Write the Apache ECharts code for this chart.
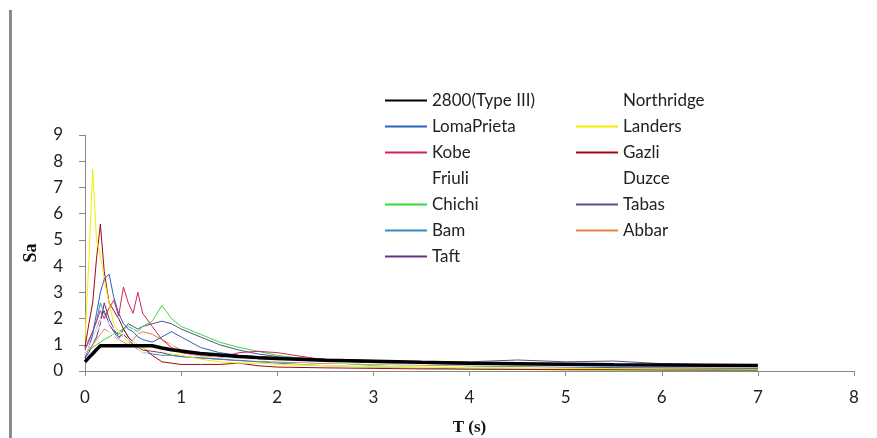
<!DOCTYPE html>
<html>
<head>
<meta charset="utf-8">
<script src="https://cdn.jsdelivr.net/npm/echarts@6/dist/echarts.min.js"></script>
<style>
  html, body { margin: 0; padding: 0; background: #fff; }
  #chart { width: 877px; height: 438px; }
</style>
</head>
<body>
<div id="chart"></div>
<script>
// periods (s)
var T = [0, 0.04, 0.08, 0.12, 0.16, 0.2, 0.25, 0.3, 0.35, 0.4, 0.45, 0.5, 0.55, 0.6, 0.7, 0.8, 0.9, 1.0,
         1.2, 1.4, 1.6, 1.8, 2.0, 2.5, 3.0, 3.5, 4.0, 4.5, 5.0, 5.5, 6.0, 6.5, 7.0];

// spectral accelerations
var code2800   = [0.35, 0.51, 0.66, 0.82, 0.96, 0.96, 0.96, 0.96, 0.96, 0.96, 0.96, 0.96, 0.96, 0.96, 0.96, 0.88, 0.81, 0.76,
                  0.67, 0.61, 0.55, 0.51, 0.48, 0.41, 0.37, 0.33, 0.30, 0.28, 0.26, 0.24, 0.23, 0.22, 0.21];
var northridge = [0.6, 0.9, 1.2, 1.5, 1.7, 1.9, 1.6, 1.4, 1.2, 1.3, 1.2, 1.1, 1.0, 0.9, 0.8, 0.75, 0.7, 0.65,
                  0.55, 0.5, 0.45, 0.4, 0.38, 0.32, 0.28, 0.25, 0.22, 0.2, 0.18, 0.17, 0.16, 0.15, 0.14];
var lomaPrieta = [0.5, 0.9, 1.4, 2.2, 3.0, 3.5, 3.7, 2.8, 2.2, 1.8, 1.6, 1.5, 1.3, 1.2, 1.1, 1.3, 1.5, 1.3,
                  0.9, 0.7, 0.6, 0.55, 0.5, 0.4, 0.3, 0.25, 0.2, 0.18, 0.15, 0.13, 0.12, 0.11, 0.1];
var landers    = [1.2, 4.2, 7.7, 5.0, 4.4, 3.5, 2.6, 1.8, 1.5, 1.3, 1.1, 1.0, 0.9, 0.85, 0.8, 0.75, 0.65, 0.6,
                  0.45, 0.35, 0.3, 0.3, 0.25, 0.2, 0.18, 0.15, 0.12, 0.12, 0.1, 0.09, 0.08, 0.08, 0.07];
var kobe       = [0.8, 1.2, 1.5, 1.9, 2.3, 2.0, 2.4, 2.7, 2.1, 3.2, 2.6, 2.2, 3.0, 2.2, 1.7, 1.2, 0.9, 0.7,
                  0.55, 0.5, 0.7, 0.75, 0.7, 0.42, 0.35, 0.3, 0.25, 0.2, 0.18, 0.16, 0.14, 0.13, 0.12];
var gazli      = [0.9, 1.8, 2.6, 4.3, 5.6, 3.8, 2.6, 2.3, 2.0, 1.6, 1.3, 1.1, 1.0, 0.9, 0.6, 0.35, 0.3, 0.25,
                  0.25, 0.25, 0.3, 0.2, 0.15, 0.12, 0.1, 0.08, 0.07, 0.06, 0.05, 0.05, 0.04, 0.04, 0.04];
var friuli     = [0.7, 1.0, 1.4, 1.8, 2.0, 1.7, 1.5, 1.3, 1.1, 1.0, 0.9, 0.85, 0.8, 0.7, 0.6, 0.55, 0.5, 0.45,
                  0.4, 0.35, 0.3, 0.28, 0.25, 0.2, 0.16, 0.14, 0.12, 0.11, 0.1, 0.09, 0.08, 0.08, 0.07];
var duzce      = [0.8, 1.0, 1.3, 1.6, 1.9, 2.1, 1.8, 1.6, 1.5, 1.4, 1.5, 1.6, 1.4, 1.3, 1.2, 1.1, 1.0, 0.9,
                  0.7, 0.6, 0.5, 0.45, 0.4, 0.35, 0.3, 0.28, 0.26, 0.24, 0.22, 0.2, 0.19, 0.18, 0.17];
var chichi     = [0.7, 0.8, 0.9, 1.0, 1.1, 1.2, 1.3, 1.4, 1.5, 1.6, 1.7, 1.6, 1.5, 1.7, 1.9, 2.5, 2.0, 1.7,
                  1.4, 1.1, 0.9, 0.75, 0.6, 0.35, 0.2, 0.12, 0.08, 0.06, 0.05, 0.04, 0.04, 0.03, 0.03];
var tabas      = [0.6, 0.9, 1.3, 1.6, 2.0, 2.3, 1.8, 1.5, 1.4, 1.6, 1.8, 1.7, 1.6, 1.7, 1.8, 1.9, 1.8, 1.6,
                  1.3, 1.0, 0.8, 0.65, 0.55, 0.45, 0.4, 0.35, 0.35, 0.42, 0.35, 0.38, 0.28, 0.24, 0.2];
var bam        = [0.8, 1.1, 1.5, 1.9, 2.6, 2.2, 1.8, 1.5, 1.2, 1.6, 1.3, 1.0, 0.8, 0.7, 0.65, 0.6, 0.6, 0.55,
                  0.5, 0.45, 0.4, 0.35, 0.3, 0.2, 0.15, 0.12, 0.1, 0.09, 0.08, 0.07, 0.06, 0.06, 0.05];
var abbar      = [0.6, 0.8, 1.0, 1.2, 1.4, 1.6, 1.5, 1.3, 1.2, 1.1, 1.0, 1.2, 1.4, 1.5, 1.4, 1.2, 1.0, 0.8,
                  0.6, 0.5, 0.45, 0.4, 0.35, 0.3, 0.25, 0.22, 0.2, 0.18, 0.17, 0.16, 0.15, 0.15, 0.14];
var taft       = [0.5, 0.7, 1.0, 1.3, 1.8, 2.6, 2.0, 1.6, 1.3, 1.4, 1.2, 1.0, 0.9, 0.8, 0.75, 0.7, 0.6, 0.55,
                  0.5, 0.45, 0.4, 0.38, 0.35, 0.3, 0.3, 0.28, 0.26, 0.25, 0.23, 0.22, 0.2, 0.2, 0.18];

var names  = ["2800(Type III)", "Northridge", "LomaPrieta", "Landers", "Kobe", "Gazli", "Friuli",
              "Duzce", "Chichi", "Tabas", "Bam", "Abbar", "Taft"];
var values = [code2800, northridge, lomaPrieta, landers, kobe, gazli, friuli,
              duzce, chichi, tabas, bam, abbar, taft];
var colors = ["#000000", "#ffffff", "#2b63b8", "#f2ee00", "#d1245c", "#9e0a14", "#ffffff",
              "#ffffff", "#3ad83a", "#5a4f8c", "#2f8fc0", "#e8843c", "#6b2f8a"];

var legendLeft  = ["2800(Type III)", "LomaPrieta", "Kobe", "Friuli", "Chichi", "Bam", "Taft"];
var legendRight = ["Northridge", "Landers", "Gazli", "Duzce", "Tabas", "Abbar"];

var chart = echarts.init(document.getElementById("chart"));

function pairs(ys) {
  return T.map(function (t, i) { return [t, ys[i]]; });
}

// draw the thick code line last so it sits on top
var series = [];
for (var i = values.length - 1; i >= 0; i--) {
  series.push({
    name: names[i],
    type: "line",
    data: pairs(values[i]),
    symbol: "none",
    z: i === 0 ? 5 : 2,
    lineStyle: { color: colors[i], width: i === 0 ? 3.5 : 1 },
    itemStyle: { color: colors[i] }
  });
}

var legendBase = {
  orient: "vertical",
  top: 92,
  itemWidth: 42,
  itemHeight: 10,
  itemGap: 9,
  padding: 0,
  icon: "path://M0,4 L42,4 L42,6 L0,6 Z",
  textStyle: { fontFamily: "Lato", fontSize: 17, color: "#222" },
  selectedMode: false
};

var option = {
  backgroundColor: "#fff",
  animation: false,
  color: colors,
  grid: { left: 85, right: 23, top: 135, bottom: 67, outerBoundsMode: "none" },
  legend: [
    Object.assign({}, legendBase, { left: 385, data: legendLeft }),
    Object.assign({}, legendBase, { left: 576, data: legendRight })
  ],
  xAxis: {
    type: "value",
    min: 0,
    max: 8,
    interval: 1,
    name: "T (s)",
    nameLocation: "middle",
    nameGap: 48,
    nameTextStyle: { fontFamily: "Liberation Serif", fontWeight: "bold", fontSize: 17, color: "#111" },
    axisLine: { lineStyle: { color: "#888" } },
    axisTick: { show: true, length: 5, lineStyle: { color: "#888" } },
    axisLabel: { fontFamily: "Lato", fontSize: 17, color: "#222", margin: 18 },
    splitLine: { show: false }
  },
  yAxis: {
    type: "value",
    min: 0,
    max: 9,
    interval: 1,
    name: "Sa",
    nameLocation: "middle",
    nameGap: 45,
    nameRotate: 90,
    nameTextStyle: { fontFamily: "Liberation Serif", fontWeight: "bold", fontSize: 18, color: "#111" },
    axisLine: { show: true, lineStyle: { color: "#888" } },
    axisTick: { show: true, length: 6, lineStyle: { color: "#888" } },
    axisLabel: { fontFamily: "Lato", fontSize: 17, color: "#222", margin: 22 },
    splitLine: { show: false }
  },
  graphic: [
    {
      type: "rect",
      shape: { x: 9, y: 10, width: 3, height: 428 },
      style: { fill: "#8a8a8a" }
    }
  ],
  series: series
};

chart.setOption(option);
</script>
</body>
</html>
